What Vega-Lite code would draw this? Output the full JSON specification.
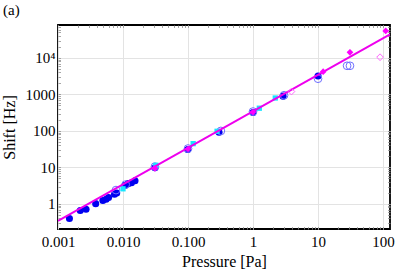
{
  "$schema": "https://vega.github.io/schema/vega-lite/v6.json",
  "autosize": "none",
  "width": 332,
  "height": 204,
  "padding": {"left": 58, "top": 25, "right": 25, "bottom": 45},
  "background": "white",
  "title": {"text": "(a)", "anchor": "start", "frame": "group", "dx": -55, "offset": 7, "font": "Liberation Serif, Times New Roman, serif", "fontSize": 15, "fontWeight": "normal", "color": "black"},
  "config": {
    "font": "Liberation Serif, Times New Roman, serif",
    "view": {"stroke": "black", "strokeWidth": 1.8},
    "axis": {"labelFont": "Liberation Serif, Times New Roman, serif", "titleFont": "Liberation Serif, Times New Roman, serif", "labelFontSize": 15, "titleFontSize": 16, "titleFontWeight": "normal", "labelColor": "black", "titleColor": "black", "gridColor": "#e3e3e3", "gridWidth": 1, "domain": false, "ticks": false}
  },
  "resolve": {"axis": {"x": "independent", "y": "independent"}},
  "datasets": {
    "pts": [
      {"series": "a", "P": 0.0015, "S": 0.40},
      {"series": "a", "P": 0.0022, "S": 0.66},
      {"series": "a", "P": 0.0027, "S": 0.72},
      {"series": "a", "P": 0.0038, "S": 1.02},
      {"series": "a", "P": 0.0049, "S": 1.25},
      {"series": "a", "P": 0.0055, "S": 1.35},
      {"series": "a", "P": 0.006, "S": 1.5},
      {"series": "a", "P": 0.0074, "S": 1.85},
      {"series": "a", "P": 0.008, "S": 2.0},
      {"series": "a", "P": 0.0107, "S": 3.2},
      {"series": "a", "P": 0.012, "S": 3.6},
      {"series": "a", "P": 0.0135, "S": 3.8},
      {"series": "a", "P": 0.0153, "S": 4.3},
      {"series": "a", "P": 0.031, "S": 9.8},
      {"series": "a", "P": 0.099, "S": 31},
      {"series": "a", "P": 0.30, "S": 92},
      {"series": "a", "P": 1.0, "S": 320},
      {"series": "a", "P": 2.9, "S": 900},
      {"series": "a", "P": 10, "S": 3200},
      {"series": "b", "P": 0.0078, "S": 2.4},
      {"series": "b", "P": 0.011, "S": 3.4},
      {"series": "b", "P": 0.031, "S": 10.5},
      {"series": "b", "P": 0.1, "S": 33},
      {"series": "b", "P": 0.32, "S": 100},
      {"series": "b", "P": 1.0, "S": 340},
      {"series": "b", "P": 3.0, "S": 950},
      {"series": "b", "P": 10, "S": 2700},
      {"series": "b", "P": 28, "S": 6100},
      {"series": "b", "P": 31, "S": 6100},
      {"series": "c", "P": 0.010, "S": 2.6},
      {"series": "c", "P": 0.032, "S": 11.5},
      {"series": "c", "P": 0.12, "S": 45},
      {"series": "c", "P": 0.28, "S": 98},
      {"series": "c", "P": 1.25, "S": 420},
      {"series": "c", "P": 2.2, "S": 800},
      {"series": "d", "P": 0.031, "S": 9.5},
      {"series": "d", "P": 0.1, "S": 32},
      {"series": "d", "P": 1.0, "S": 330},
      {"series": "d", "P": 12, "S": 4200},
      {"series": "d", "P": 31, "S": 14300},
      {"series": "d", "P": 110, "S": 55000},
      {"series": "e", "P": 3.9, "S": 1200},
      {"series": "e", "P": 90, "S": 10500}
    ],
    "fit": [
      {"P": 0.001, "S": 0.345},
      {"P": 130, "S": 44850}
    ]
  },
  "layer": [
    {
      "data": {"name": "pts"},
      "transform": [{"filter": "datum.series === 'a'"}],
      "mark": {"type": "point", "shape": "circle", "filled": true, "color": "#0000f0", "size": 50, "opacity": 1, "clip": true},
      "encoding": {
        "x": {"field": "P", "type": "quantitative", "scale": {"type": "log", "domain": [0.001, 128], "nice": false},
              "axis": {"orient": "bottom", "values": [0.001, 0.01, 0.1, 1, 10, 100], "title": "Pressure [Pa]", "labelExpr": "datum.value < 1 ? format(datum.value, '.3f') : format(datum.value, 'd')", "labelPadding": 5, "titlePadding": 4, "labelFlush": false}},
        "y": {"field": "S", "type": "quantitative", "scale": {"type": "log", "domain": [0.206, 80000], "nice": false},
              "axis": {"orient": "left", "values": [1, 10, 100, 1000, 10000], "title": "Shift [Hz]", "labelExpr": "datum.value == 10000 ? '10⁴' : format(datum.value, 'd')", "labelPadding": 3, "titlePadding": 8, "labelFlush": false}}
      }
    },
    {
      "data": {"name": "pts"},
      "transform": [{"filter": "datum.series === 'b'"}],
      "mark": {"type": "point", "shape": "circle", "filled": false, "color": "#6f6fff", "size": 60, "strokeWidth": 1, "opacity": 1, "clip": true},
      "encoding": {
        "x": {"field": "P", "type": "quantitative",
              "axis": {"orient": "bottom", "values": [0.002,0.003,0.004,0.005,0.006,0.007,0.008,0.009,0.01,0.02,0.03,0.04,0.05,0.06,0.07,0.08,0.09,0.1,0.2,0.3,0.4,0.5,0.6,0.7,0.8,0.9,1,2,3,4,5,6,7,8,9,10,20,30,40,50,60,70,80,90,100], "labels": false, "grid": false, "ticks": true, "tickSize": -2.5, "tickColor": "#909090", "tickWidth": 0.8, "title": null}},
        "y": {"field": "S", "type": "quantitative",
              "axis": {"orient": "left", "values": [0.3,0.4,0.5,0.6,0.7,0.8,0.9,1,2,3,4,5,6,7,8,9,10,20,30,40,50,60,70,80,90,100,200,300,400,500,600,700,800,900,1000,2000,3000,4000,5000,6000,7000,8000,9000,10000,20000,30000,40000,50000,60000,70000], "labels": false, "grid": false, "ticks": true, "tickSize": -2.5, "tickColor": "#909090", "tickWidth": 0.8, "title": null}}
      }
    },
    {
      "data": {"name": "pts"},
      "transform": [{"filter": "datum.series === 'c'"}],
      "mark": {"type": "point", "shape": "square", "filled": true, "color": "#19e6ff", "size": 28, "opacity": 1, "clip": true},
      "encoding": {
        "x": {"field": "P", "type": "quantitative",
              "axis": {"orient": "top", "values": [0.002,0.003,0.004,0.005,0.006,0.007,0.008,0.009,0.01,0.02,0.03,0.04,0.05,0.06,0.07,0.08,0.09,0.1,0.2,0.3,0.4,0.5,0.6,0.7,0.8,0.9,1,2,3,4,5,6,7,8,9,10,20,30,40,50,60,70,80,90,100], "labels": false, "grid": false, "ticks": true, "tickSize": -2.5, "tickColor": "#909090", "tickWidth": 0.8, "title": null}},
        "y": {"field": "S", "type": "quantitative",
              "axis": {"orient": "right", "values": [0.3,0.4,0.5,0.6,0.7,0.8,0.9,1,2,3,4,5,6,7,8,9,10,20,30,40,50,60,70,80,90,100,200,300,400,500,600,700,800,900,1000,2000,3000,4000,5000,6000,7000,8000,9000,10000,20000,30000,40000,50000,60000,70000], "labels": false, "grid": false, "ticks": true, "tickSize": -2.5, "tickColor": "#909090", "tickWidth": 0.8, "title": null}}
      }
    },
    {
      "data": {"name": "fit"},
      "mark": {"type": "line", "color": "#ee00ee", "strokeWidth": 2, "clip": true},
      "encoding": {
        "x": {"field": "P", "type": "quantitative", "axis": null},
        "y": {"field": "S", "type": "quantitative", "axis": null}
      }
    },
    {
      "data": {"name": "pts"},
      "transform": [{"filter": "datum.series === 'd'"}],
      "mark": {"type": "point", "shape": "diamond", "filled": true, "color": "#ff00ff", "size": 45, "opacity": 1, "clip": true},
      "encoding": {
        "x": {"field": "P", "type": "quantitative", "axis": null},
        "y": {"field": "S", "type": "quantitative", "axis": null}
      }
    },
    {
      "data": {"name": "pts"},
      "transform": [{"filter": "datum.series === 'e'"}],
      "mark": {"type": "point", "shape": "diamond", "filled": false, "color": "#ff66ff", "size": 45, "strokeWidth": 1, "opacity": 1, "clip": true},
      "encoding": {
        "x": {"field": "P", "type": "quantitative", "axis": null},
        "y": {"field": "S", "type": "quantitative", "axis": null}
      }
    }
  ]
}
